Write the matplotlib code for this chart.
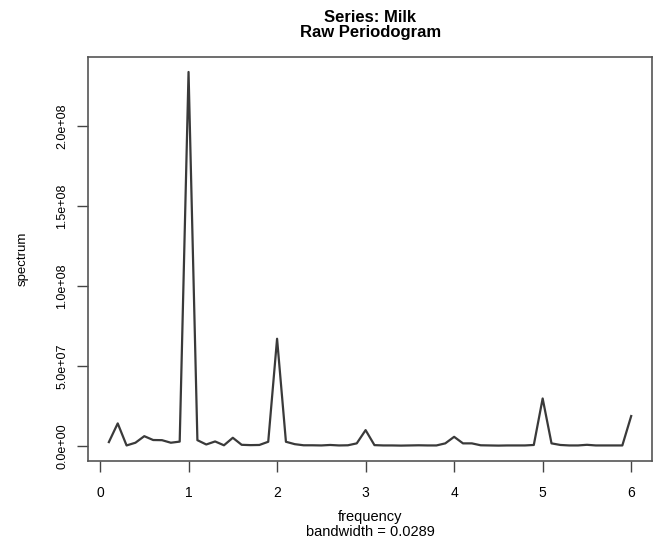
import numpy as np
import matplotlib
matplotlib.use('Agg')
import matplotlib.pyplot as plt

# raw periodogram of the Milk series, frequencies 0.1 .. 6.0
freq = np.round(np.arange(1, 61) * 0.1, 1)
spectrum = [
    2.3e6, 1.4e7, 0.2e6, 1.9e6, 6.0e6, 3.6e6, 3.5e6, 1.9e6, 2.6e6, 2.34e8,
    3.5e6, 0.8e6, 2.7e6, 0.3e6, 5.0e6, 0.6e6, 0.4e6, 0.5e6, 2.5e6, 6.7e7,
    2.5e6, 1.0e6, 0.3e6, 0.3e6, 0.2e6, 0.5e6, 0.2e6, 0.3e6, 1.5e6, 9.8e6,
    0.4e6, 0.2e6, 0.2e6, 0.1e6, 0.2e6, 0.3e6, 0.2e6, 0.2e6, 1.5e6, 5.6e6,
    1.5e6, 1.5e6, 0.3e6, 0.2e6, 0.1e6, 0.2e6, 0.2e6, 0.2e6, 0.5e6, 2.96e7,
    1.5e6, 0.5e6, 0.2e6, 0.2e6, 0.6e6, 0.2e6, 0.2e6, 0.2e6, 0.2e6, 1.86e7,
]
xticks = [0, 1, 2, 3, 4, 5, 6]
yticks = [0, 5e7, 1e8, 1.5e8, 2e8]
ytick_labels = ['0.0e+00', '5.0e+07', '1.0e+08', '1.5e+08', '2.0e+08']

plt.rcParams['font.family'] = ['Liberation Sans', 'DejaVu Sans']

fig = plt.figure(figsize=(6.59, 5.41), dpi=100)
ax = fig.add_axes([0.1335, 0.1484, 0.856, 0.7462])

ax.plot(freq, spectrum, color='#3a3a3a', lw=1.6)

# R style 4% padding
xr = freq.max() - freq.min()
ax.set_xlim(freq.min() - 0.04 * xr, freq.max() + 0.04 * xr)
ymax = max(spectrum)
ax.set_ylim(-0.04 * ymax, 1.04 * ymax)

ax.set_xticks(xticks)
ax.set_xticklabels([str(t) for t in xticks], fontsize=10)
ax.set_yticks(yticks)
ax.set_yticklabels(ytick_labels, fontsize=9, rotation=90, va='center')
ax.tick_params(axis='both', length=8, width=1, color='#444444')
ax.tick_params(axis='x', pad=10)
ax.tick_params(axis='y', pad=6)

for s in ax.spines.values():
    s.set_color('#555555')
    s.set_linewidth(1.2)

ax.set_ylabel('spectrum', fontsize=9.5, labelpad=20)
fig.text(0.5617, 1 - 517 / 541, 'frequency', ha='center', va='center', fontsize=10.5)
fig.text(0.5617, 1 - 532 / 541, 'bandwidth = 0.0289', ha='center', va='center', fontsize=10.5)

fig.text(0.5617, 1 - 17 / 541, 'Series: Milk', ha='center', va='center',
         fontsize=12, fontweight='bold')
fig.text(0.5617, 1 - 33 / 541, 'Raw Periodogram', ha='center', va='center',
         fontsize=12, fontweight='bold')

fig.savefig('out.png', dpi=100)
